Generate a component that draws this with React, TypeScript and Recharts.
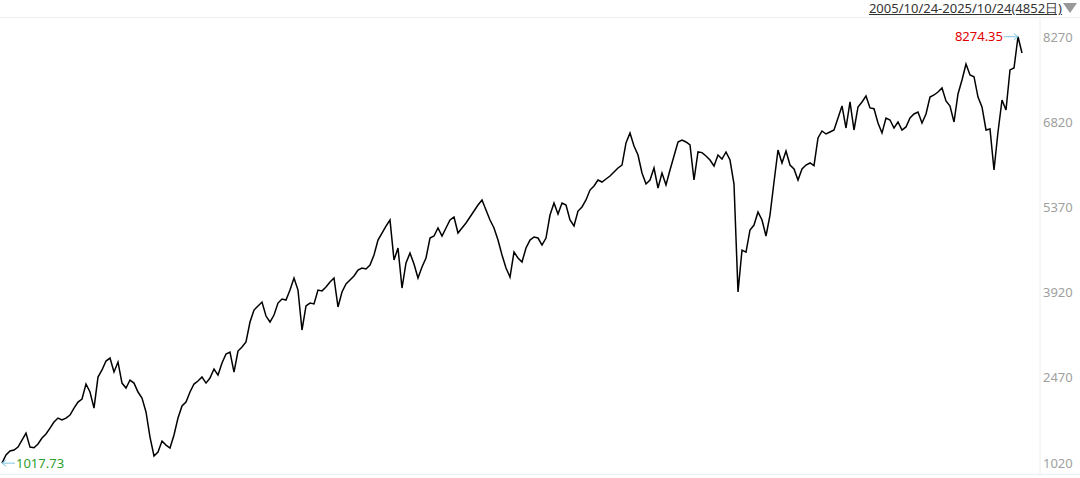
import React from "react";
import { LineChart, Line, XAxis, YAxis } from "recharts";

// header text
const rangeLabel = "2005/10/24-2025/10/24(4852日)";

// price axis ticks
const yTicks = [1020, 2470, 3920, 5370, 6820, 8270];

const closes = [
  1017.73, 1156, 1224, 1241, 1291, 1410, 1529, 1291, 1279, 1343,
  1445, 1513, 1615, 1717, 1785, 1752, 1785, 1836, 1955, 2057,
  2109, 2364, 2228, 1955, 2483, 2603, 2755, 2806, 2568, 2738,
  2380, 2296, 2432, 2380, 2228, 2126, 1888, 1462, 1139, 1206,
  1394, 1325, 1275, 1496, 1785, 1990, 2057, 2228, 2364, 2415,
  2483, 2380, 2466, 2619, 2517, 2722, 2874, 2908, 2568, 2926,
  2993, 3079, 3419, 3623, 3692, 3759, 3521, 3419, 3538, 3742,
  3811, 3794, 3963, 4168, 3963, 3283, 3692, 3742, 3727, 3963,
  3949, 4015, 4100, 4168, 3675, 3930, 4066, 4134, 4202, 4305,
  4338, 4323, 4389, 4560, 4814, 4934, 5053, 5156, 4474, 4679,
  3998, 4424, 4593, 4407, 4168, 4355, 4509, 4849, 4883, 5019,
  4883, 5019, 5156, 5206, 4934, 5019, 5104, 5206, 5308, 5410,
  5496, 5325, 5156, 5019, 4814, 4560, 4338, 4185, 4610, 4509,
  4440, 4679, 4814, 4866, 4849, 4730, 4849, 5240, 5444, 5258,
  5444, 5410, 5156, 5053, 5308, 5377, 5496, 5665, 5734, 5836,
  5802, 5853, 5904, 5972, 6040, 6091, 6466, 6636, 6414, 6261,
  5955, 5768, 5836, 6040, 5700, 5955, 5751, 6007, 6245, 6483,
  6516, 6483, 6432, 5836, 6313, 6302, 6245, 6176, 6074, 6261,
  6193, 6313, 6176, 5768, 3930, 4644, 4610, 4985, 5070, 5292,
  5156, 4883, 5240, 5802, 6347, 6126, 6330, 6091, 6024, 5836,
  6024, 6091, 6126, 6079, 6551, 6670, 6619, 6653, 6687, 6891,
  7096, 6721, 7164, 6687, 7079, 7164, 7266, 7062, 7049, 6806,
  6636, 6891, 6858, 6721, 6823, 6687, 6739, 6891, 6960, 6994,
  6806, 6960, 7248, 7283, 7334, 7402, 7181, 7096, 6823, 7300,
  7538, 7811, 7623, 7594, 7248, 7079, 6687, 6705, 6007, 6653,
  7198, 7027, 7709, 7742, 8274.35, 7997,
];

const data = closes.map((v, i) => ({ i, v }));

const maxIdx = closes.indexOf(Math.max(...closes));
const minIdx = closes.indexOf(Math.min(...closes));

const W = 1080;
const H = 478;

function MarkDot(props: any) {
  const { cx, cy, index, value } = props;
  if (index === maxIdx) {
    return (
      <g key={"mx"}>
        <line x1={cx - 14} y1={cy} x2={cx} y2={cy} stroke="#7fc6e2" strokeWidth={1} />
        <path d={`M${cx - 4},${cy - 3} L${cx},${cy} L${cx - 4},${cy + 3}`} fill="none" stroke="#7fc6e2" />
        <text x={cx - 15} y={cy} dy="0.36em" textAnchor="end" fill="#e00000" fontSize={13} fontFamily="Noto Sans">
          {Number(value).toFixed(2)}
        </text>
      </g>
    );
  }
  if (index === minIdx) {
    return (
      <g key={"mn"}>
        <line x1={cx} y1={cy} x2={cx + 13} y2={cy} stroke="#7fc6e2" strokeWidth={1} />
        <path d={`M${cx + 4},${cy - 3} L${cx},${cy} L${cx + 4},${cy + 3}`} fill="none" stroke="#7fc6e2" />
        <text x={cx + 14} y={cy} dy="0.36em" textAnchor="start" fill="#2e9e2e" fontSize={13} fontFamily="Noto Sans">
          {Number(value).toFixed(2)}
        </text>
      </g>
    );
  }
  return <g key={"d" + index} />;
}

export default function App() {
  return (
    <div style={{ position: "relative", width: W, height: H, background: "#fff", fontFamily: "Noto Sans" }}>
      <style>{"body{margin:0}"}</style>
      {/* top header */}
      <div
        style={{
          position: "absolute",
          right: 18,
          top: 0,
          fontSize: 13,
          lineHeight: "17px",
          color: "#333",
          textDecoration: "underline",
        }}
      >
        {rangeLabel}
      </div>
      <svg style={{ position: "absolute", left: 1063, top: 3 }} width={15} height={11}>
        <polygon points="0,0 14,0 7,10" fill="#999" />
      </svg>
      <div style={{ position: "absolute", left: 0, top: 17, width: W, borderTop: "1px solid #eeeeee" }} />
      <div style={{ position: "absolute", left: 0, top: 474, width: W, borderTop: "1px solid #eeeeee" }} />

      <div style={{ position: "absolute", left: 0, top: 0 }}>
        <LineChart width={W} height={H} data={data} margin={{ top: 17, right: 0, bottom: 4, left: 0 }}>
          <XAxis dataKey="i" hide padding={{ left: 2, right: 18 }} />
          <YAxis
            orientation="right"
            width={40}
            domain={[833, 8610]}
            ticks={yTicks}
            interval={0}
            tickLine={false}
            axisLine={{ stroke: "#eeeeee" }}
            tickSize={3}
            tickMargin={0}
            tick={{ fill: "#a0a0a0", fontSize: 13, fontFamily: "Noto Sans", textAnchor: "start" }}
            allowDataOverflow
          />
          <Line
            type="linear"
            dataKey="v"
            stroke="#000"
            strokeWidth={1.5}
            dot={MarkDot}
            activeDot={false}
            isAnimationActive={false}
          />
        </LineChart>
      </div>
    </div>
  );
}
